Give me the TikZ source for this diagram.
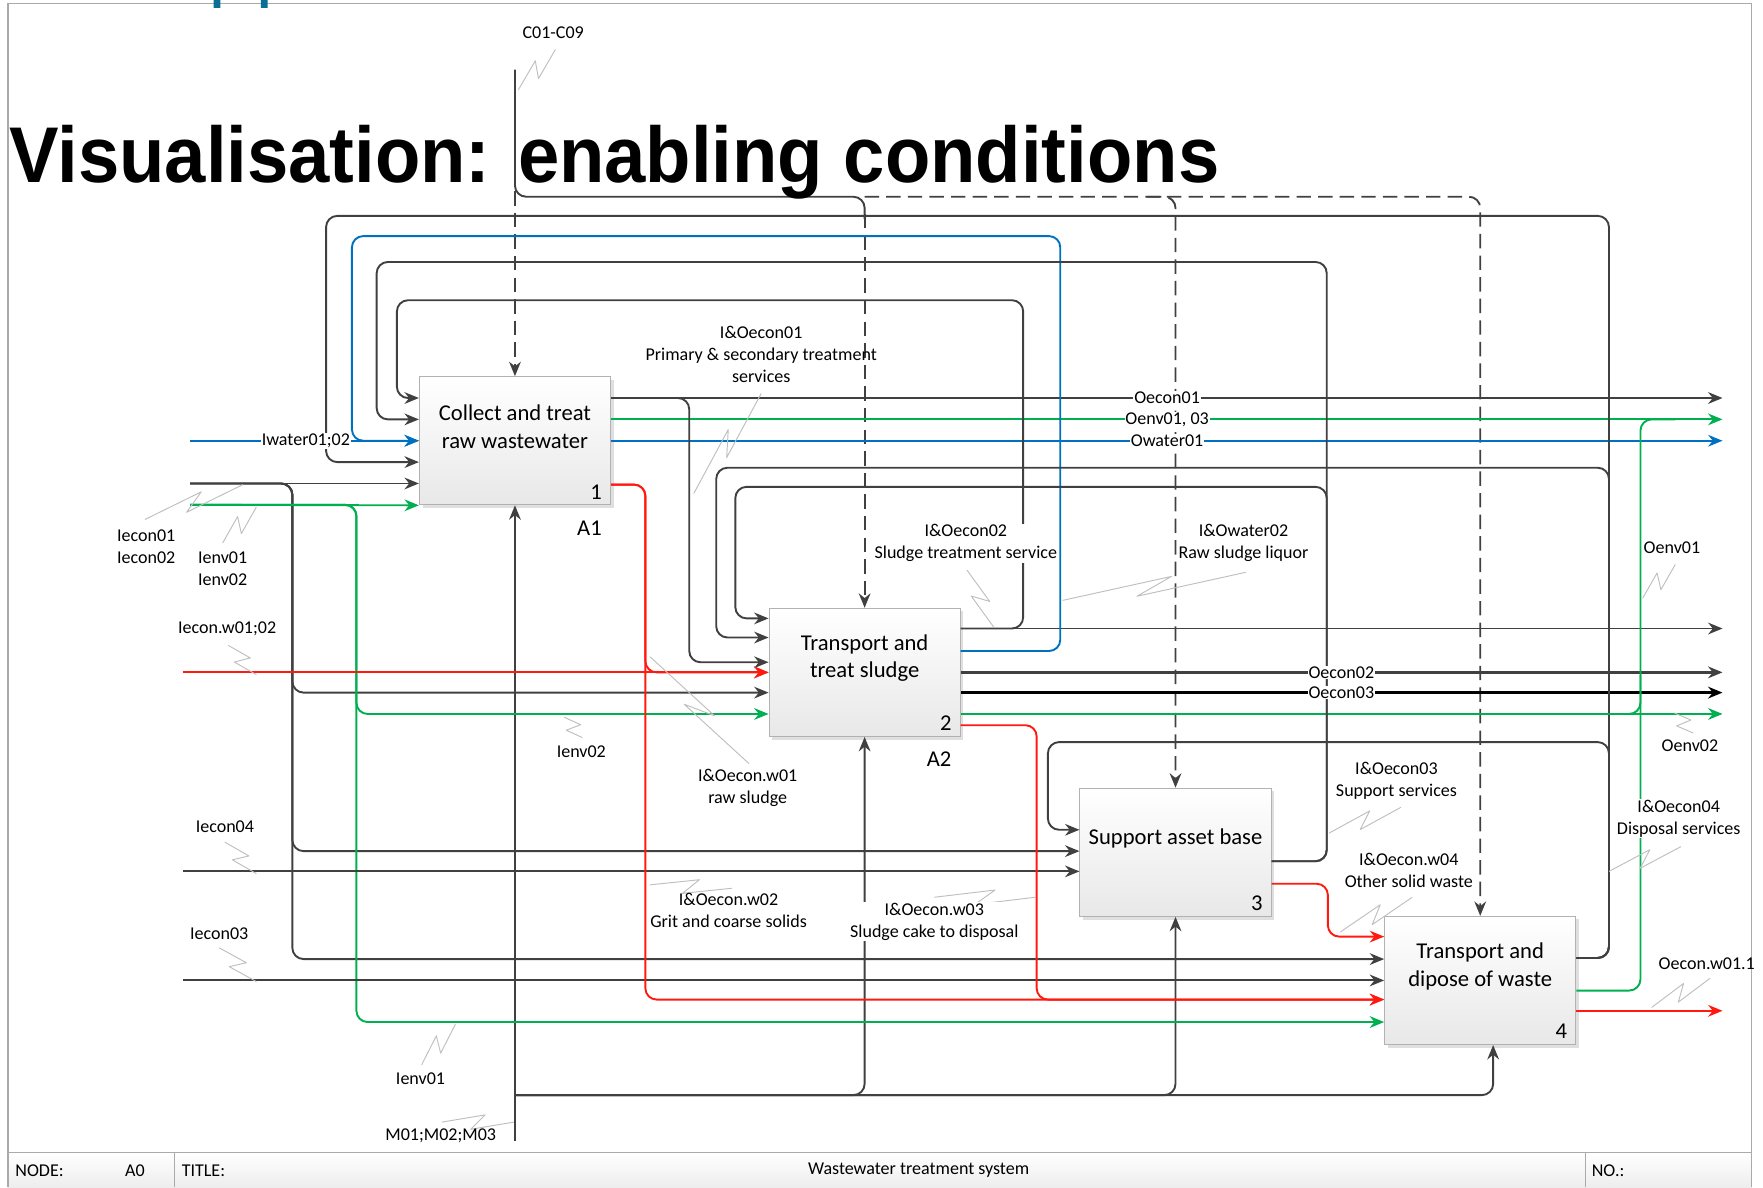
\documentclass[tikz,border=0pt]{standalone}
\usepackage{fontspec}
\setmainfont{Carlito}
\newfontfamily\titlefont{Liberation Sans}
\usetikzlibrary{arrows.meta,calc,shadows}

\definecolor{linea}{RGB}{64,64,64}
\definecolor{acqua}{RGB}{0,112,192}
\definecolor{verde}{RGB}{0,176,80}
\definecolor{rosso}{RGB}{255,25,15}
\definecolor{cornice}{RGB}{170,170,170}
\definecolor{frammento}{RGB}{10,110,150}

\newcommand{\lab}{\fontsize{11.4}{13.9}\selectfont}
\newcommand{\boxf}{\fontsize{14.3}{17.2}\selectfont}
\newcommand{\squig}[2]{\draw[squiggle] (#1) -- ($(#1)!0.6!(#2)!0.16cm!90:(#2)$) -- ($(#1)!0.4!(#2)!0.16cm!-90:(#2)$) -- (#2);}

\tikzset{
  attivita/.style={draw=gray!60, line width=0.6pt, top color=white, bottom color=gray!18,
    minimum width=4.25cm, minimum height=2.85cm,
    drop shadow={opacity=0.25, shadow xshift=0.07cm, shadow yshift=-0.07cm}},
  testo/.style={align=center, font=\boxf},
  lab/.style={align=center, font=\lab, inner sep=1pt},
  labw/.style={lab, fill=white, inner sep=0.5pt},
  flow/.style={->, >={Stealth[length=0.32cm,width=0.26cm]}, line width=1.2pt, draw=linea, rounded corners=0.25cm},
  tratto/.style={line width=1.2pt, draw=linea, rounded corners=0.25cm},
  ctl/.style={flow, dash pattern=on 0.32cm off 0.16cm},
  squiggle/.style={draw=gray!50, line width=0.6pt, line join=round}
}

\begin{document}
\begin{tikzpicture}[x=0.025cm, y=-0.025cm]
    \useasboundingbox (0,0) rectangle (1568,1056);

    % Cornice e barra del titolo
    \fill[top color=white, bottom color=gray!14] (7,1025) rectangle (1558,1056);
    \draw[cornice, line width=0.8pt] (7,1056) -- (7,3) -- (1558,3) -- (1558,1056);
    \draw[cornice, line width=0.8pt] (7,1025) -- (1558,1025) (155,1025) -- (155,1056) (1410,1025) -- (1410,1056);
    \fill[frammento] (190,0) rectangle (196,7) (232,0) rectangle (238,7);

    % Blocchi (attivita)
    \node[attivita] (A1) at (458,392) {};
    \node[attivita] (A2) at (769,598) {};
    \node[attivita] (A3) at (1045.5,758) {};
    \node[attivita] (A4) at (1316.5,872) {};

    % Estremi liberi
    \coordinate (Lin) at (169,0);
    \coordinate (Lex) at (163,0);
    \coordinate (Rout) at (1532,0);
    \coordinate (Ctop) at (458,62);
    \coordinate (Mbot) at (458,1015);

    % Controlli C01-C09
    \draw[tratto] (Ctop) -- (458,175) -- (A2.north |- 0,175) -- (A2.north |- 0,195);
    \draw[ctl] (458,170) -- (A1.north);
    \draw[ctl] (A2.north |- 0,190) -- (A2.north);
    \draw[ctl] (A2.north |- 0,175) -- (A4.north |- 0,175) -- (A4.north);
    \draw[ctl] (1020,175) -- (A3.north |- 0,175) -- (A3.north);

    % Meccanismi
    \draw[flow] (Mbot) -- (A1.south);
    \draw[flow] (458,974) -- (A2.south |- 0,974) -- (A2.south);
    \draw[flow] (458,974) -- (A3.south |- 0,974) -- (A3.south);
    \draw[flow] (458,974) -- (1328,974) -- (A4.south -| 1328,0);

    % Ingressi da sinistra
    \draw[flow, draw=acqua] (Lin |- A1.west) -- (A1.west);
    \draw[flow] (Lin |- 0,430) -- (A1.west |- 0,430);
    \draw[flow, draw=verde] (Lin |- 0,449) -- (A1.south west);
    \draw[flow] (Lin |- 0,430) -- (260,430) -- (260,616) -- (A2.west |- 0,616);
    \draw[flow] (Lin |- 0,430) -- (260,430) -- (260,757) -- (A3.west |- 0,757);
    \draw[flow] (Lin |- 0,430) -- (260,430) -- (260,853) -- (A4.west |- 0,853);
    \draw[flow, draw=verde] (Lin |- 0,449) -- (317,449) -- (317,635) -- (A2.west |- 0,635);
    \draw[flow, draw=verde] (Lin |- 0,449) -- (317,449) -- (317,909) -- (A4.west |- 0,909);
    \draw[flow, draw=rosso] (Lex |- A2.west) -- (A2.west);
    \draw[flow] (Lex |- 0,775) -- (A3.west |- 0,775);
    \draw[flow] (Lex |- A4.west) -- (A4.west);

    % Uscite A1
    \draw[flow, line width=1.6pt] (A1.east |- 0,354) -- (Rout |- 0,354);
    \draw[flow, draw=verde] (A1.east |- 0,373) -- (Rout |- 0,373);
    \draw[flow, draw=acqua] (A1.east) -- (Rout |- A1.east);
    \draw[flow] (A1.east |- 0,354) -- (613,354) -- (613,589) -- (A2.west |- 0,589);
    \draw[flow, draw=rosso] (A1.east |- 0,431) -- (574,431) -- (574,598) -- (A2.west);
    \draw[flow, draw=rosso] (A1.east |- 0,431) -- (574,431) -- (574,889) -- (A4.west |- 0,889);

    % Uscite A2
    \draw[flow] (A2.east |- 0,559) -- (Rout |- 0,559);
    \draw[flow] (A2.east |- 0,559) -- (910,559) -- (910,267) -- (353,267) -- (353,354) -- (A1.west |- 0,354);
    \draw[flow, draw=acqua] (A2.east |- 0,579) -- (943,579) -- (943,210) -- (313,210) -- (313,392) -- (A1.west);
    \draw[flow, line width=1.6pt] (A2.east) -- (Rout |- A2.east);
    \draw[flow, line width=2pt, draw=black] (A2.east |- 0,616) -- (Rout |- 0,616);
    \draw[flow, draw=verde] (A2.east |- 0,635) -- (Rout |- 0,635);
    \draw[flow, draw=rosso] (A2.east |- 0,645) -- (922,645) -- (922,889) -- (A4.west |- 0,889);

    % Uscite A3
    \draw[flow] (A3.east |- 0,766) -- (1180,766) -- (1180,233) -- (335,233) -- (335,373) -- (A1.west |- 0,373);
    \draw[flow] (A3.east |- 0,766) -- (1180,766) -- (1180,433) -- (654,433) -- (654,550) -- (A2.west |- 0,550);
    \draw[flow, draw=rosso] (A3.east |- 0,786) -- (1181,786) -- (1181,833) -- (A4.west |- 0,833);

    % Uscite A4
    \draw[flow] (A4.east |- 0,852) -- (1431,852) -- (1431,192) -- (290,192) -- (290,411) -- (A1.west |- 0,411);
    \draw[flow] (A4.east |- 0,852) -- (1431,852) -- (1431,416) -- (637,416) -- (637,567) -- (A2.west |- 0,567);
    \draw[flow] (A4.east |- 0,852) -- (1431,852) -- (1431,660) -- (932,660) -- (932,738) -- (A3.west |- 0,738);
    \draw[tratto, draw=verde] (A4.east |- 0,881) -- (1459,881) -- (1459,373) -- (1490,373);
    \draw[tratto, draw=verde] (1420,635) -- (1459,635) -- (1459,600);
    \draw[flow, draw=rosso] (A4.east |- 0,899) -- (Rout |- 0,899);

    % Testi dei blocchi
    \node[testo] (t1) at ([yshift=0.31cm]A1.center) {Collect and treat\\raw wastewater};
    \node[testo] (t2) at ([yshift=0.31cm]A2.center) {Transport and\\treat sludge};
    \node[testo] (t3) at ([yshift=0.31cm]A3.center) {Support asset base};
    \node[testo] (t4) at ([yshift=0.31cm]A4.center) {Transport and\\dipose of waste};
    \node[testo] (n1) at ([xshift=-0.33cm,yshift=0.3cm]A1.south east) {1};
    \node[testo] (n2) at ([xshift=-0.33cm,yshift=0.3cm]A2.south east) {2};
    \node[testo] (n3) at ([xshift=-0.33cm,yshift=0.3cm]A3.south east) {3};
    \node[testo] (n4) at ([xshift=-0.33cm,yshift=0.3cm]A4.south east) {4};
    \node[testo] (c1) at ([xshift=-0.48cm,yshift=-0.5cm]A1.south east) {A1};
    \node[testo] (c2) at ([xshift=-0.48cm,yshift=-0.5cm]A2.south east) {A2};

    % Squiggle
    \squig{494,44}{461,80}
    \squig{677,350}{617,439}
    \squig{860,507}{884,558}
    \squig{945,534}{1108,509}
    \squig{1490,502}{1461,532}
    \squig{1489,634}{1506,652}
    \squig{1182,741}{1246,718}
    \squig{1192,829}{1256,798}
    \squig{1431,775}{1495,753}
    \squig{1469,896}{1521,870}
    \squig{578,584}{666,679}
    \squig{578,787}{651,790}
    \squig{831,798}{921,798}
    \squig{129,462}{216,431}
    \squig{198,483}{228,451}
    \squig{203,574}{228,600}
    \squig{502,638}{518,656}
    \squig{200,749}{228,777}
    \squig{195,843}{228,873}
    \squig{375,947}{405,911}
    \squig{393,998}{457,998}

    % Etichette sulle frecce
    \node[labw] (iw) at (272,392) {Iwater01;02};
    \node[labw] (o1) at (1038,354) {Oecon01};
    \node[labw] (o2) at (1038,373) {Oenv01, 03};
    \node[labw] (o3) at (1038,392) {Owater01};
    \node[labw] (o4) at (1193,598) {Oecon02};
    \node[labw] (o5) at (1193,616) {Oecon03};

    % Etichette libere
    \node[lab] (c0) at (492,29) {C01-C09};
    \node[lab] (l1) at (677,315) {I\&Oecon01\\Primary \& secondary treatment\\services};
    \node[labw] (l2) at (859,483) {I\&Oecon02\\Sludge treatment service};
    \node[lab] (l3) at (1106,483) {I\&Owater02\\Raw sludge liquor};
    \node[lab] (l4) at (1242,694) {I\&Oecon03\\Support services};
    \node[lab] (l5) at (1253,774) {I\&Oecon.w04\\Other solid waste};
    \node[labw] (l6) at (1493,728) {I\&Oecon04\\Disposal services};
    \node[lab] (l7) at (665,701) {I\&Oecon.w01\\raw sludge};
    \node[lab] (l8) at (648,810) {I\&Oecon.w02\\Grit and coarse solids};
    \node[labw] (l9) at (831,820) {I\&Oecon.w03\\Sludge cake to disposal};
    \node[lab] (l10) at (130,486) {Iecon01\\Iecon02};
    \node[lab] (l11) at (198,506) {Ienv01\\Ienv02};
    \node[lab] (l12) at (202,559) {Iecon.w01;02};
    \node[lab] (l13) at (200,735) {Iecon04};
    \node[lab] (l14) at (195,830) {Iecon03};
    \node[lab] (l15) at (517,669) {Ienv02};
    \node[lab] (l16) at (374,959) {Ienv01};
    \node[lab] (l17) at (392,1010) {M01;M02;M03};
    \node[lab] (l18) at (1487,487) {Oenv01};
    \node[lab] (l19) at (1503,663) {Oenv02};
    \node[lab] (l20) at (1518,857) {Oecon.w01.1};

    % Titolo e barra
    \node[anchor=base west, inner sep=0pt] (titolo) at (8,162) {\titlefont\bfseries\fontsize{50}{60}\selectfont\scalebox{0.939}[1]{Visualisation: enabling conditions}};
    \node[lab, anchor=west] (nodo) at (12,1041) {NODE:};
    \node[lab] (a0) at (120,1041) {A0};
    \node[lab, anchor=west] (tit) at (160,1041) {TITLE:};
    \node[lab] (sis) at (817,1041) {Wastewater treatment system};
    \node[lab, anchor=west] (num) at (1414,1041) {NO.:};
\end{tikzpicture}
\end{document}
